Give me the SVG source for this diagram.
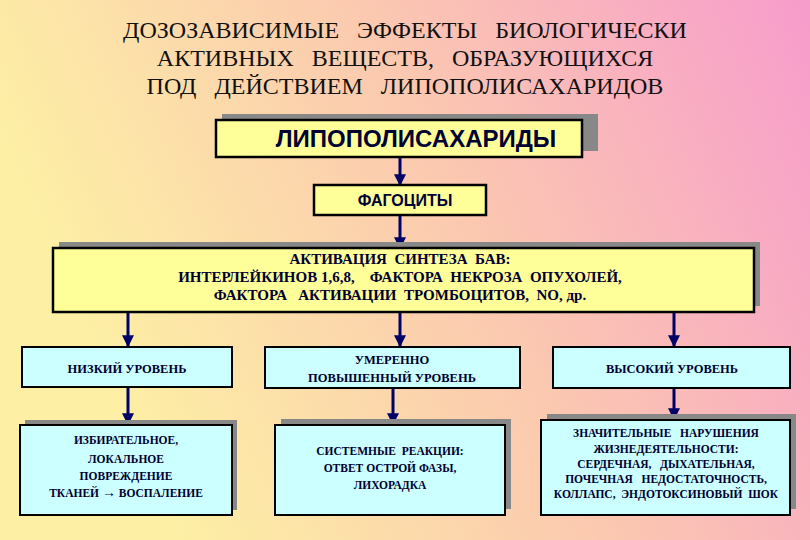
<svg xmlns="http://www.w3.org/2000/svg" width="810" height="540" viewBox="0 0 810 540">
<defs>
<linearGradient id="bg" x1="0" y1="0.3" x2="1" y2="0"><stop offset="0" stop-color="#fdf0a4"/><stop offset="0.5" stop-color="#fbc8b0"/><stop offset="1" stop-color="#f79ccc"/></linearGradient>
<marker id="ah" viewBox="0 0 10 10" refX="9" refY="5" markerWidth="4" markerHeight="5" orient="auto"><path d="M0,0L10,5L0,10z" fill="#000066"/></marker>
<style>
text{white-space:pre}
.y{fill:#ffff99;stroke:#000;stroke-width:2.5}
.c{fill:#ccffff;stroke:#000;stroke-width:2}
.sh{fill:#888}
.t{font-family:"Liberation Serif",serif;font-weight:bold;fill:#000033;text-anchor:middle}
.s{font-family:"Liberation Sans",sans-serif;font-weight:bold;fill:#000033;text-anchor:middle}
.ln{stroke:#000066;stroke-width:3;marker-end:url(#ah)}
</style>
</defs>
<rect width="810" height="540" fill="url(#bg)"/>
<g id="title" class="t" style="font-weight:normal;font-size:24px;fill:#111">
<text x="405" y="38" xml:space="preserve">ДОЗОЗАВИСИМЫЕ   ЭФФЕКТЫ   БИОЛОГИЧЕСКИ</text>
<text x="405" y="66" xml:space="preserve">АКТИВНЫХ   ВЕЩЕСТВ,   ОБРАЗУЮЩИХСЯ</text>
<text x="405" y="94" xml:space="preserve">ПОД   ДЕЙСТВИЕМ   ЛИПОПОЛИСАХАРИДОВ</text>
</g>
<g id="connectors">
<line class="ln" x1="400" y1="157" x2="400" y2="185"/>
<line class="ln" x1="400" y1="215" x2="400" y2="248"/>
<line class="ln" x1="128" y1="312" x2="128" y2="346"/>
<line class="ln" x1="400" y1="312" x2="400" y2="346"/>
<line class="ln" x1="674" y1="312" x2="674" y2="346"/>
<line class="ln" x1="128" y1="388" x2="128" y2="424"/>
<line class="ln" x1="393" y1="388" x2="393" y2="424"/>
<line class="ln" x1="674" y1="388" x2="674" y2="419"/>
</g>
<g id="lps"><rect class="sh" x="222" y="114" width="376" height="37"/><rect class="y" x="216" y="120" width="366" height="37"/><text class="s" x="416" y="147" font-size="24">ЛИПОПОЛИСАХАРИДЫ</text></g>
<g id="phag"><rect class="y" x="314" y="185" width="172" height="30"/><text class="s" x="405" y="206" font-size="16">ФАГОЦИТЫ</text></g>
<g id="bav"><rect class="sh" x="59" y="242" width="701" height="64"/><rect class="y" x="53" y="248" width="701" height="64"/>
<text class="t" font-size="15" x="400" y="264" xml:space="preserve">АКТИВАЦИЯ  СИНТЕЗА  БАВ:</text>
<text class="t" font-size="15" x="400" y="282" xml:space="preserve">ИНТЕРЛЕЙКИНОВ 1,6,8,    ФАКТОРА  НЕКРОЗА  ОПУХОЛЕЙ,</text>
<text class="t" font-size="15" x="400" y="300" xml:space="preserve">ФАКТОРА   АКТИВАЦИИ  ТРОМБОЦИТОВ,  NO, др.</text></g>
<g id="low"><rect class="c" x="22" y="347" width="210" height="40"/><text class="t" font-size="12.5" x="127" y="373">НИЗКИЙ УРОВЕНЬ</text></g>
<g id="mid"><rect class="c" x="265" y="347" width="255" height="41"/><text class="t" font-size="12.5" x="392" y="364">УМЕРЕННО</text><text class="t" font-size="12.5" x="392" y="382">ПОВЫШЕННЫЙ УРОВЕНЬ</text></g>
<g id="high"><rect class="c" x="553" y="347" width="237" height="41"/><text class="t" font-size="12.5" x="672" y="373">ВЫСОКИЙ УРОВЕНЬ</text></g>
<g id="b1"><rect class="sh" x="25" y="420" width="212" height="90"/><rect class="c" x="20" y="425" width="212" height="90"/>
<g class="t" font-size="11.5"><text x="126" y="444">ИЗБИРАТЕЛЬНОЕ,</text><text x="126" y="463">ЛОКАЛЬНОЕ</text><text x="126" y="480">ПОВРЕЖДЕНИЕ</text><text x="126" y="497">ТКАНЕЙ <tspan font-size="14">→</tspan> ВОСПАЛЕНИЕ</text></g></g>
<g id="b2"><rect class="sh" x="281" y="419" width="230" height="90"/><rect class="c" x="275" y="425" width="230" height="90"/>
<g class="t" font-size="11.5"><text x="390" y="455" xml:space="preserve">СИСТЕМНЫЕ  РЕАКЦИИ:</text><text x="390" y="472">ОТВЕТ ОСТРОЙ ФАЗЫ,</text><text x="390" y="489">ЛИХОРАДКА</text></g></g>
<g id="b3"><rect class="sh" x="547" y="414" width="249" height="95"/><rect class="c" x="541" y="420" width="249" height="95"/>
<g class="t" font-size="11.5"><text x="666" y="437" xml:space="preserve">ЗНАЧИТЕЛЬНЫЕ   НАРУШЕНИЯ</text><text x="666" y="453">ЖИЗНЕДЕЯТЕЛЬНОСТИ:</text><text x="666" y="468" xml:space="preserve">СЕРДЕЧНАЯ,   ДЫХАТЕЛЬНАЯ,</text><text x="666" y="483" xml:space="preserve">ПОЧЕЧНАЯ   НЕДОСТАТОЧНОСТЬ,</text><text x="666" y="498" xml:space="preserve">КОЛЛАПС,  ЭНДОТОКСИНОВЫЙ  ШОК</text></g></g>
</svg>
